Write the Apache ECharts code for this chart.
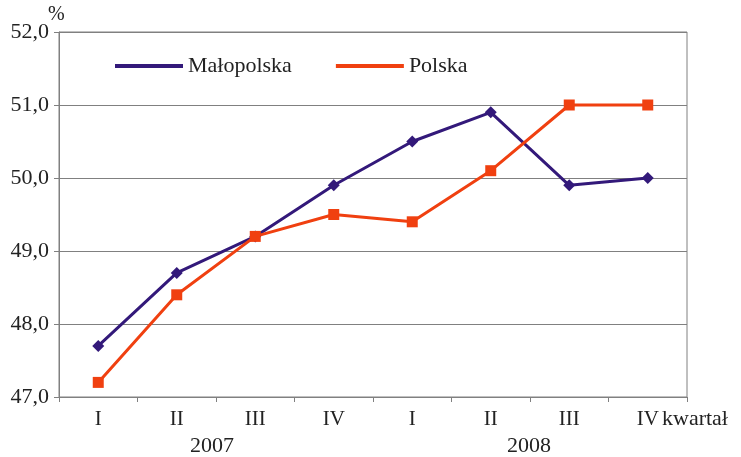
<!DOCTYPE html>
<html><head><meta charset="utf-8">
<script src="https://cdn.jsdelivr.net/npm/echarts@6/dist/echarts.min.js"></script>
<style>html,body{margin:0;padding:0;background:#fff}#c{width:741px;height:457px}</style>
</head><body><div id="c"></div>
<script>
const categories = ['I','II','III','IV','I','II','III','IV'];
const malopolska = [47.7, 48.7, 49.2, 49.9, 50.5, 50.9, 49.9, 50.0];
const polska = [47.2, 48.4, 49.2, 49.5, 49.4, 50.1, 51.0, 51.0];
const yearLabels = ['2007', '2008'];
const seriesNames = ['Małopolska', 'Polska'];

const FONT = '"Liberation Serif", "Times New Roman", serif';
const chart = echarts.init(document.getElementById('c'));
chart.setOption({
  animation: false,
  grid: {left: 59, right: 54, top: 32, bottom: 60, show: true, borderColor: '#808080', borderWidth: 1},
  legend: {
    left: 110, top: 50, itemWidth: 68, itemHeight: 4, itemGap: 44, icon: 'rect',
    textStyle: {fontFamily: FONT, fontSize: 22, color: '#222'},
    data: seriesNames
  },
  xAxis: {
    type: 'category', data: categories, boundaryGap: true,
    axisLine: {lineStyle: {color: '#808080'}},
    axisTick: {show: true, length: 5, lineStyle: {color: '#808080'}},
    axisLabel: {fontFamily: FONT, fontSize: 21, color: '#222', margin: 12}
  },
  yAxis: {
    type: 'value', min: 47, max: 52, interval: 1,
    axisLine: {show: true, lineStyle: {color: '#808080'}},
    axisTick: {show: true, length: 5, lineStyle: {color: '#808080'}},
    splitLine: {lineStyle: {color: '#808080', width: 1}},
    axisLabel: {fontFamily: FONT, fontSize: 22, color: '#222', margin: 10,
      formatter: v => v.toFixed(1).replace('.', ',')}
  },
  graphic: [
    {type: 'text', left: 48, top: 5, style: {text: '%', font: '20px ' + FONT, fill: '#222'}},
    {type: 'text', left: 190, top: 435, style: {text: yearLabels[0], font: '22px ' + FONT, fill: '#222'}},
    {type: 'text', left: 507, top: 435, style: {text: yearLabels[1], font: '22px ' + FONT, fill: '#222'}},
    {type: 'text', left: 662, top: 408, style: {text: 'kwartał', font: '22px ' + FONT, fill: '#222'}}
  ],
  series: [
    {name: seriesNames[0], type: 'line', data: malopolska, symbol: 'diamond', symbolSize: 12,
      lineStyle: {color: '#33197a', width: 3}, itemStyle: {color: '#33197a'}},
    {name: seriesNames[1], type: 'line', data: polska, symbol: 'rect', symbolSize: 11,
      lineStyle: {color: '#f04010', width: 3}, itemStyle: {color: '#f04010'}}
  ]
});
</script></body></html>
